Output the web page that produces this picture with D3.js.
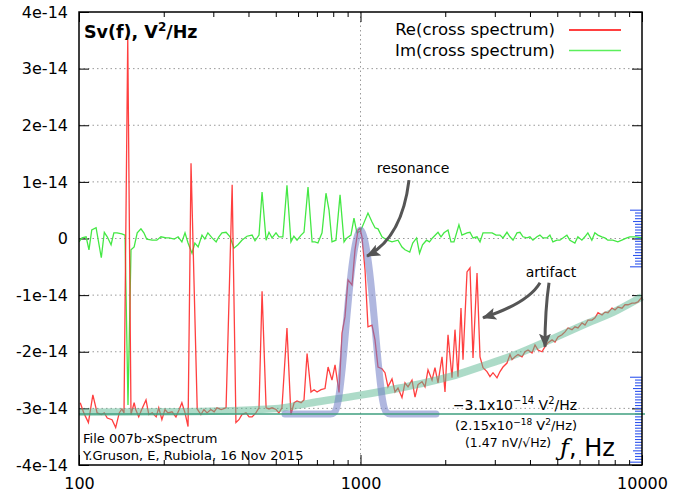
<!DOCTYPE html>
<html lang="en">
<head>
<meta charset="UTF-8">
<title>Sv(f) cross spectrum</title>
<style>
  body { margin: 0; background: #fff; }
  svg text { font-family: "DejaVu Sans", sans-serif; fill: #000; }
</style>
</head>
<body>
<svg width="675" height="499"></svg>

<script src="https://d3js.org/d3.v7.min.js"></script>
<script>
// values are in units of 1e-14 V^2/Hz
var unit = 1e-14;

// Re(cross spectrum): [frequency Hz, value]
var reSpectrum = [
  [101,-2.90],[104,-3.08],[108,-3.25],[112,-2.76],[116,-3.08],[120,-3.11],[123,-3.08],[126,-3.17],
  [131,-3.20],[135,-3.34],[139,-3.08],[142,-3.01],[144.5,-3.08],[149,3.54],[153,-3.11],[157,-2.90],
  [159,-3.02],[163,-3.15],[167,-3.02],[173,-2.85],[177,-3.11],[182,-3.08],[188,-3.15],[192,-2.99],
  [197,-3.20],[202,-3.02],[207,-3.08],[214,-3.06],[221,-3.15],[227,-3.02],[232,-2.90],[238,-3.08],
  [244,-3.32],[250,1.33],[263,-3.01],[271,-3.11],[278,-3.02],[285,-3.08],[294,-3.02],[302,-3.06],
  [309,-2.99],[320,-3.02],[333,-2.99],[350,0.95],[361,-3.25],[370,-3.20],[379,-3.11],[392,-3.08],
  [402,-3.15],[412,-3.15],[425,-3.08],[436,-2.99],[447,-0.93],[462,-2.99],[473,-3.01],[485,-2.99],
  [501,-3.02],[513,-3.08],[526,-2.99],[548,-1.58],[566,-3.11],[581,-2.90],[595,-2.87],[615,-2.90],
  [630,-2.85],[646,-2.03],[667,-2.71],[684,-2.67],[701,-2.71],[724,-2.67],[748,-2.65],[767,-2.27],
  [792,-2.50],[812,-2.23],[839,-2.72],[860,-1.67],[881,-1.38],[903,-0.73],[933,-0.82],[956,-0.20],
  [980,0.15],[996,0.18],[1012,0.03],[1038,-0.56],[1063,-1.56],[1099,-1.53],[1126,-1.79],[1154,-2.27],
  [1192,-2.30],[1222,-2.37],[1252,-2.62],[1294,-2.48],[1326,-2.71],[1359,-2.64],[1404,-2.81],[1439,-2.55],
  [1475,-2.62],[1524,-2.50],[1562,-2.80],[1601,-2.58],[1654,-2.53],[1695,-2.62],[1737,-2.32],[1795,-2.50],
  [1839,-2.28],[1885,-2.55],[1948,-2.09],[1996,-2.71],[2046,-1.70],[2114,-2.46],[2166,-1.61],[2220,-2.44],
  [2275,-1.23],[2313,-2.14],[2390,-0.59],[2449,-0.52],[2510,-2.11],[2594,-0.61],[2658,-2.09],[2724,-2.28],
  [2814,-2.35],[2884,-2.44],[2956,-2.37],[3054,-2.46],[3130,-2.35],[3208,-2.27],[3314,-2.20],[3397,-2.05],
  [3453,-2.14],[3539,-2.09],[3627,-2.05],[3748,-2.09],[3840,-2.00],[3936,-1.97],[4067,-2.02],[4168,-1.88],
  [4272,-1.97],[4414,-2.00],[4522,-1.91],[4636,-1.84],[4790,-1.79],[4910,-1.83],[5030,-1.74],[5197,-1.70],
  [5327,-1.65],[5460,-1.58],[5640,-1.61],[5781,-1.56],[5924,-1.58],[6123,-1.49],[6274,-1.53],[6430,-1.44],
  [6644,-1.44],[6808,-1.40],[6978,-1.31],[7210,-1.35],[7390,-1.30],[7572,-1.31],[7824,-1.23],[8018,-1.26],
  [8216,-1.21],[8491,-1.23],[8701,-1.17],[8920,-1.17],[9215,-1.14],[9443,-1.14],[9678,-1.12],[10000,-1.03]
];

// Im(cross spectrum): [frequency Hz, value]
var imSpectrum = [
  [100,-0.06],[102.5,0.01],[106,0.03],[108.5,-0.20],[111,0.15],[115,0.19],[120,-0.34],[123,0.11],
  [126,0.03],[130,-0.11],[133,0.10],[136.5,0.10],[142,0.08],[145.7,0.06],[149.3,-2.94],[153,-0.20],
  [157,-0.15],[161,0.10],[166,0.17],[170,0.10],[174,-0.01],[182,-0.03],[189,-0.03],[195.5,0.03],
  [204,0.01],[209,0.01],[218,-0.01],[225,0.03],[232,-0.06],[238,0.10],[244,-0.08],[252,-0.26],
  [258,-0.08],[265,-0.15],[273.5,0.06],[280,-0.01],[287,0.10],[297,0.01],[307,-0.06],[314,0.03],
  [322,0.10],[333,0.11],[344,0.03],[355,-0.17],[367,-0.11],[379,-0.03],[395,0.04],[412,0.06],
  [422,-0.04],[436,0.06],[447,0.82],[462,-0.03],[473,0.11],[485,0.01],[501,0.10],[513,0.03],
  [530,0.03],[548,0.94],[566,-0.06],[580,0.04],[595,-0.03],[615,0.06],[630,0.11],[651,0.91],
  [673,-0.06],[689,-0.06],[706,-0.08],[730,0.10],[754,0.80],[773,0.50],[792,-0.06],[818,-0.03],
  [846,0.77],[874,-0.06],[895,0.01],[925,0.06],[948,0.36],[971,0.10],[1000,0.13],[1063,0.45],
  [1099,0.29],[1126,0.19],[1154,0.17],[1192,0.03],[1245,-0.03],[1294,-0.06],[1359,-0.03],[1404,-0.15],
  [1439,-0.20],[1496,-0.24],[1533,-0.08],[1582,0.01],[1621,-0.26],[1661,-0.11],[1716,-0.03],[1758,-0.06],
  [1802,0.01],[1885,0.11],[1932,0.03],[1980,0.10],[2046,0.15],[2096,-0.06],[2148,-0.06],[2237,0.24],
  [2293,0.06],[2390,0.10],[2449,0.11],[2510,0.01],[2594,0.03],[2658,-0.06],[2724,0.10],[2839,0.10],
  [2934,0.10],[3031,0.06],[3130,0.06],[3208,0.01],[3314,0.11],[3397,0.03],[3482,-0.03],[3597,0.10],
  [3686,0.11],[3777,0.03],[3902,0.01],[3999,0.03],[4098,-0.03],[4234,0.03],[4339,0.06],[4447,0.01],
  [4594,0.01],[4708,0.06],[4825,-0.06],[4985,-0.03],[5109,-0.03],[5236,0.01],[5409,0.06],[5544,-0.03],
  [5775,-0.08],[5919,0.03],[6115,-0.03],[6266,0.03],[6422,0.10],[6635,-0.03],[6800,0.10],[6969,0.06],
  [7200,0.03],[7379,0.01],[7562,-0.03],[7874,-0.03],[8207,-0.06],[8479,-0.03],[8834,0.01],[9053,0.03],
  [9508,0.03],[10000,0.01]
];

// hand drawn guide: resonance bump (blue)
var resonanceGuide = [
  [539,-3.10],[782,-3.10],[808,-3.07],[835,-2.84],[863,-2.25],[892,-1.45],[921,-0.72],[952,-0.19],
  [976,0.05],[1000,0.15],[1025,0.05],[1050,-0.19],[1085,-0.72],[1121,-1.45],[1159,-2.25],[1197,-2.84],
  [1237,-3.07],[1278,-3.10],[1854,-3.10]
];

// hand drawn guide: rising background (light green)
var backgroundGuide = [
  [100,-3.07],[228,-3.06],[513,-3.00],[672,-2.90],[988,-2.77],[1381,-2.64],[2080,-2.44],
  [2723,-2.25],[3594,-2.04],[4712,-1.79],[6167,-1.53],[8147,-1.27],[10000,-1.03]
];

// noise floor level
var floorLevel = -3.1;

// axis ticks and labels
var yTicks = [-4, -3, -2, -1, 0, 1, 2, 3, 4];
var yTickLabels = ["-4e-14", "-3e-14", "-2e-14", "-1e-14", "0", "1e-14", "2e-14", "3e-14", "4e-14"];
var xTicks = [100, 1000, 10000];
var xTickLabels = ["100", "1000", "10000"];
var xMinorTicks = [200, 300, 400, 500, 600, 700, 800, 900, 2000, 3000, 4000, 5000, 6000, 7000, 8000, 9000];

// blue ruler marks on the right edge: [from, to] in units
var rulerRanges = [[-0.5, 0.5], [-3.95, -2.45]];

var legendNames = ["Re(cross spectrum)", "Im(cross spectrum)"];
var legendColors = ["#ff0000", "#5bef5b"];

var margin = {top: 12, right: 33, bottom: 34, left: 79};
var svg = d3.select("svg");
var W = +svg.attr("width"), H = +svg.attr("height");
var width = W - margin.left - margin.right;
var height = H - margin.top - margin.bottom;

var g = svg.append("g").attr("transform", "translate(" + margin.left + "," + margin.top + ")");

var x = d3.scaleLog().domain([100, 10000]).range([0, width]);
var y = d3.scaleLinear().domain([-4 * unit, 4 * unit]).range([height, 0]);

svg.append("defs").append("clipPath").attr("id", "plotclip")
  .append("rect").attr("width", width).attr("height", height);

// dotted grid
g.append("g").selectAll("line").data(yTicks.slice(1, -1)).enter().append("line")
  .attr("x1", 0).attr("x2", width)
  .attr("y1", function(d){ return y(d * unit); })
  .attr("y2", function(d){ return y(d * unit); })
  .attr("stroke", "#999").attr("stroke-dasharray", "1.5,3");
g.append("line")
  .attr("x1", x(1000)).attr("x2", x(1000)).attr("y1", 0).attr("y2", height)
  .attr("stroke", "#999").attr("stroke-dasharray", "1.5,3");

// axes: ticks drawn inward on all four sides
function styleAxis(sel) {
  sel.select(".domain").remove();
  sel.selectAll(".tick line").attr("stroke", "#000");
  sel.selectAll("text").style("font-family", "DejaVu Sans").style("font-size", "16px").attr("fill", "#222");
}
g.append("g")
  .call(d3.axisLeft(y).tickValues(yTicks.map(function(v){ return v * unit; }))
    .tickSize(-10).tickPadding(11)
    .tickFormat(function(d, i){ return yTickLabels[i]; }))
  .call(styleAxis);
g.append("g").attr("transform", "translate(" + width + ",0)")
  .call(d3.axisRight(y).tickValues(yTicks.map(function(v){ return v * unit; })).tickSize(-10).tickFormat(""))
  .call(styleAxis);
g.append("g").attr("transform", "translate(0," + height + ")")
  .call(d3.axisBottom(x).tickValues(xTicks).tickSize(-10).tickPadding(13)
    .tickFormat(function(d, i){ return xTickLabels[i]; }))
  .call(styleAxis);
g.append("g").attr("transform", "translate(0," + height + ")")
  .call(d3.axisBottom(x).tickValues(xMinorTicks).tickSize(-5).tickFormat(""))
  .call(styleAxis);
g.append("g")
  .call(d3.axisTop(x).tickValues(xTicks).tickSize(-10).tickFormat(""))
  .call(styleAxis);
g.append("g")
  .call(d3.axisTop(x).tickValues(xMinorTicks).tickSize(-5).tickFormat(""))
  .call(styleAxis);

// blue ruler marks at the right edge
rulerRanges.forEach(function(r) {
  var n = Math.round((r[1] - r[0]) / 0.05);
  var marks = d3.range(n + 1).map(function(i){ return {v: r[0] + i * 0.05, i: i, n: n}; });
  g.append("g").selectAll("line").data(marks).enter().append("line")
    .attr("x1", function(d){
      if (d.i === 0 || d.i === d.n) return width - 12;
      if (d.i === 4 || d.i === d.n - 4) return width - 9;
      return width - 7;
    })
    .attr("x2", width)
    .attr("y1", function(d){ return y(d.v * unit); })
    .attr("y2", function(d){ return y(d.v * unit); })
    .attr("stroke", "#2f55ee").attr("stroke-width", 1.1);
});

var line = d3.line()
  .x(function(d){ return x(d[0]); })
  .y(function(d){ return y(d[1] * unit); });

var plot = g.append("g").attr("clip-path", "url(#plotclip)");

// measured traces
plot.append("path").datum(imSpectrum)
  .attr("d", line).attr("fill", "none")
  .attr("stroke", "#44e844").attr("stroke-width", 1.3);
plot.append("path").datum(reSpectrum)
  .attr("d", line).attr("fill", "none")
  .attr("stroke", "#ff2a2a").attr("stroke-width", 1.3).attr("stroke-opacity", 0.9);

// guides drawn on top, semi transparent
var smooth = d3.line().curve(d3.curveMonotoneX)
  .x(function(d){ return x(d[0]); })
  .y(function(d){ return y(d[1] * unit); });
g.append("path").datum(backgroundGuide)
  .attr("d", smooth).attr("fill", "none")
  .attr("stroke", "#5cb891").attr("stroke-opacity", 0.5)
  .attr("stroke-width", 7.5).attr("stroke-linecap", "butt");
g.append("path").datum(resonanceGuide)
  .attr("d", smooth).attr("fill", "none")
  .attr("stroke", "#6f7cc4").attr("stroke-opacity", 0.55)
  .attr("stroke-width", 7).attr("stroke-linecap", "round").attr("stroke-linejoin", "round");

// floor line
g.append("line")
  .attr("x1", 0).attr("x2", width + 3)
  .attr("y1", y(floorLevel * unit)).attr("y2", y(floorLevel * unit))
  .attr("stroke", "#3f9f7f").attr("stroke-width", 1.5);

// frame
g.append("rect").attr("width", width).attr("height", height)
  .attr("fill", "none").attr("stroke", "#000").attr("stroke-width", 1.5);

// arrows (start, control, tip) in data coords
var arrows = [
  [[1487, 1.03], [1404, 0.01], [1055, -0.31]],
  [[4343, -0.78], [3936, -1.14], [2724, -1.40]],
  [[4674, -0.78], [4522, -1.26], [4522, -1.91]]
];
svg.select("defs").append("marker")
  .attr("id", "head").attr("markerUnits", "userSpaceOnUse")
  .attr("viewBox", "0 0 14 12").attr("refX", 13).attr("refY", 6)
  .attr("markerWidth", 14).attr("markerHeight", 12).attr("orient", "auto")
  .append("path").attr("d", "M0,0 L14,6 L0,12 L3,6 z").attr("fill", "#555");
g.append("g").selectAll("path").data(arrows).enter().append("path")
  .attr("d", function(a){
    var p = a.map(function(d){ return [x(d[0]), y(d[1] * unit)]; });
    return "M" + p[0] + "Q" + p[1] + " " + p[2];
  })
  .attr("fill", "none").attr("stroke", "#555").attr("stroke-width", 3)
  .attr("marker-end", "url(#head)");

// title
var title = svg.append("text").attr("x", 84).attr("y", 38)
  .style("font-size", "17.5px").style("font-weight", "bold");
title.append("tspan").text("Sv(f), V");
title.append("tspan").attr("dy", -7).style("font-size", "12px").text("2");
title.append("tspan").attr("dy", 7).text("/Hz");

// legend
var legend = svg.append("g").selectAll("g").data(legendNames).enter().append("g")
  .attr("transform", function(d, i){ return "translate(0," + (i * 20.5) + ")"; });
legend.append("text").attr("x", 555).attr("y", 35).attr("text-anchor", "end")
  .style("font-size", "16.5px").attr("fill", "#222")
  .text(function(d){ return d; });
legend.append("line").attr("x1", 569).attr("x2", 621).attr("y1", 30).attr("y2", 30)
  .attr("stroke", function(d, i){ return legendColors[i]; }).attr("stroke-width", 1.5);

// annotations
svg.append("text").attr("x", 413).attr("y", 173).attr("text-anchor", "middle")
  .style("font-size", "14px").text("resonance");
svg.append("text").attr("x", 551).attr("y", 277).attr("text-anchor", "middle")
  .style("font-size", "14px").text("artifact");

var t1 = svg.append("text").attr("x", 515).attr("y", 410).attr("text-anchor", "middle").style("font-size", "14px");
t1.append("tspan").text("\u22123.1x10");
t1.append("tspan").attr("dy", -6).style("font-size", "10px").text("\u221214");
t1.append("tspan").attr("dy", 6).text(" V");
t1.append("tspan").attr("dy", -6).style("font-size", "10px").text("2");
t1.append("tspan").attr("dy", 6).text("/Hz");

var t2 = svg.append("text").attr("x", 516).attr("y", 430).attr("text-anchor", "middle").style("font-size", "13px");
t2.append("tspan").text("(2.15x10");
t2.append("tspan").attr("dy", -5).style("font-size", "9px").text("\u221218");
t2.append("tspan").attr("dy", 5).text(" V");
t2.append("tspan").attr("dy", -5).style("font-size", "9px").text("2");
t2.append("tspan").attr("dy", 5).text("/Hz)");

svg.append("text").attr("x", 508).attr("y", 447).attr("text-anchor", "middle")
  .style("font-size", "12.5px").text("(1.47 nV/\u221AHz)");

var fz = svg.append("text").attr("x", 560).attr("y", 456).style("font-size", "24px");
fz.append("tspan").style("font-family", "DejaVu Serif").style("font-style", "italic").style("font-size", "24px").text("\u0192");
fz.append("tspan").text(", Hz");

svg.append("text").attr("x", 83).attr("y", 443).style("font-size", "13px").text("File 007b-xSpectrum");
svg.append("text").attr("x", 83).attr("y", 460).style("font-size", "13px").text("Y.Gruson, E, Rubiola, 16 Nov 2015");
</script>
</body>
</html>
